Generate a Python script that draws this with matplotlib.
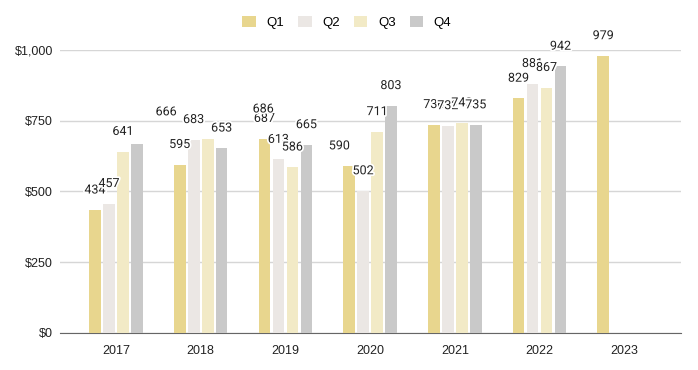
import matplotlib.pyplot as plt
import matplotlib.patheffects as pe
import numpy as np

# Data
years = ['2017', '2018', '2019', '2020', '2021', '2022', '2023']
q1 = [434, 595, 687, 590, 736, 829, 979]
q2 = [457, 683, 613, 502, 732, 881, None]
q3 = [641, 686, 586, 711, 742, 867, None]
q4 = [666, 653, 665, 803, 735, 942, None]
quarters = ['Q1', 'Q2', 'Q3', 'Q4']
colors = ['#e8d68e', '#ebe7e4', '#f2eac6', '#c9c9c9']

# label nudges (points) where the original chart moved overlapping labels
nudge = {(0, 3): (21, 9), (1, 2): (40, 7), (3, 0): (-7, 0)}

plt.rcParams['font.family'] = ['Liberation Sans', 'DejaVu Sans']

fig = plt.figure(figsize=(6.98, 3.7), dpi=100)
ax = fig.add_axes([0.086, 0.1, 0.8897, 0.765])

x = np.arange(len(years))
step = 0.165
width = 0.138
halo = [pe.withStroke(linewidth=2.5, foreground='white')]

for qi, (vals, name, c) in enumerate(zip([q1, q2, q3, q4], quarters, colors)):
    idx = [i for i, v in enumerate(vals) if v is not None]
    hs = [vals[i] for i in idx]
    pos = x[idx] + (qi - 1.5) * step
    ax.bar(pos, hs, width, color=c, label=name, zorder=3)
    for i, p, h in zip(idx, pos, hs):
        dx, dy = nudge.get((i, qi), (0, 0))
        ax.annotate(str(h), (p, h), xytext=(dx, 14.5 + dy), textcoords='offset points',
                    ha='center', va='center', fontsize=9, family='Roboto',
                    color='#222222', path_effects=halo, zorder=5)

ax.set_xlim(-0.66, 6.67)
ax.set_ylim(0, 1000)
ax.set_yticks([0, 250, 500, 750, 1000])
ax.set_yticklabels(['$0', '$250', '$500', '$750', '$1,000'])
ax.set_xticks(x)
ax.set_xticklabels(years)
ax.yaxis.grid(True, color='#d6d6d6', linewidth=1, zorder=0)
ax.set_axisbelow(True)
for s in ['top', 'right', 'left']:
    ax.spines[s].set_visible(False)
ax.spines['bottom'].set_color('#666666')
ax.tick_params(axis='both', length=0, labelsize=9, colors='#222222')
ax.tick_params(axis='x', pad=9)
ax.tick_params(axis='y', pad=5)

fig.legend(loc='upper center', bbox_to_anchor=(0.497, 0.99), ncol=4, frameon=False,
           fontsize=9.5, handlelength=1.0, handleheight=1.0, columnspacing=1.1,
           handletextpad=0.8)

fig.savefig('out.png', dpi=100)
